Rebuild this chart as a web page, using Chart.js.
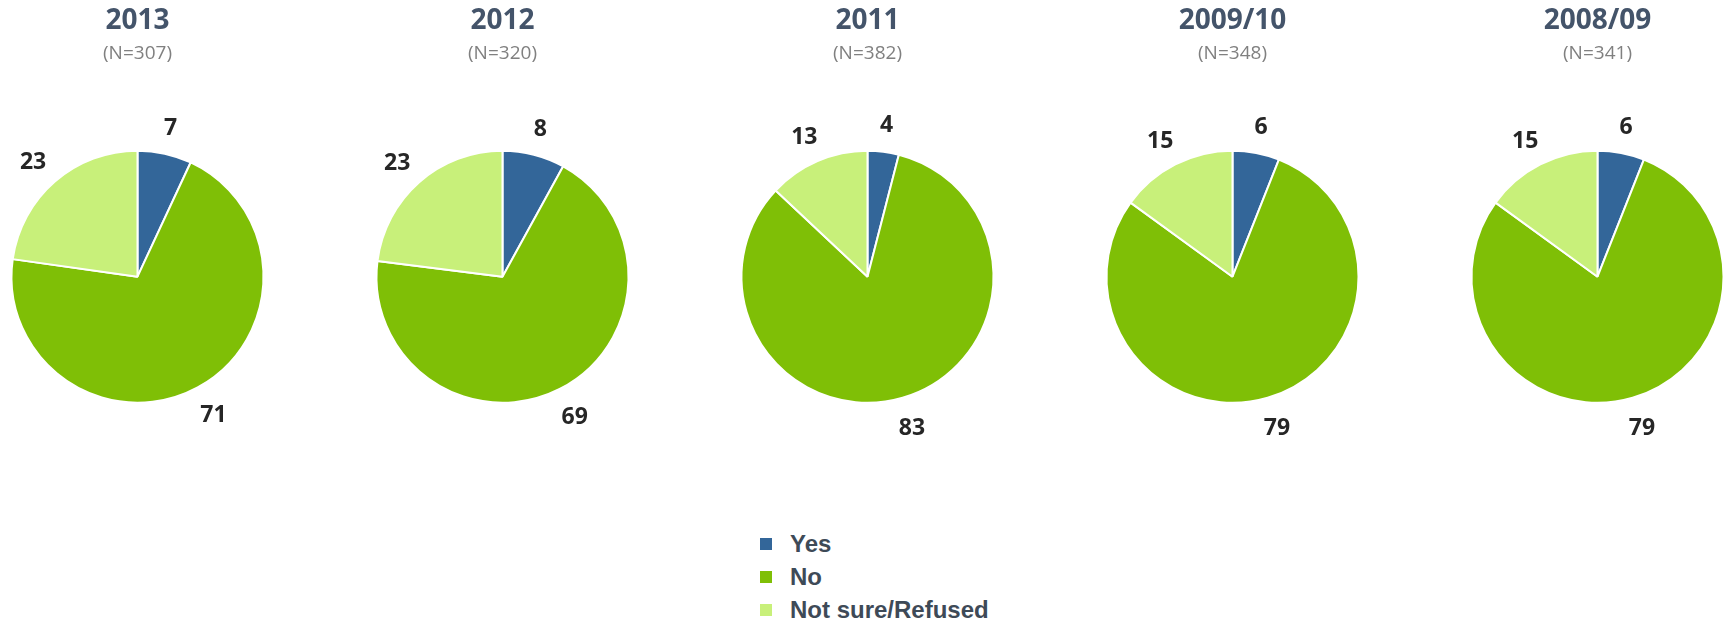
<!DOCTYPE html>
<html lang="en">
<head>
  <meta charset="UTF-8">
  <script src="https://cdn.jsdelivr.net/npm/chart.js"></script>
  <title>Pies</title>
  <style>
    html, body { margin: 0; padding: 0; background: #fff; overflow: hidden; }
    body { width: 1730px; height: 623px; position: relative; }
    #row { position: absolute; left: -45px; top: 0; display: flex; }
    .pie { width: 365px; height: 440px; position: relative; }
    #legend { position: absolute; left: 760px; top: 527px; font: bold 24px "Liberation Sans", Arial, sans-serif; color: #3e4a57; }
    .item { display: flex; align-items: center; height: 33px; }
    .box { width: 12px; height: 12px; margin-right: 18px; }
  </style>
</head>
<body>
  <div id="row"></div>
  <div id="legend"></div>

<script>
  // survey answers, percent
  const answers = ['Yes', 'No', 'Not sure/Refused'];
  const years = ['2013', '2012', '2011', '2009/10', '2008/09'];
  const sampleSizes = ['(N=307)', '(N=320)', '(N=382)', '(N=348)', '(N=341)'];
  const yesValues = [7, 8, 4, 6, 6];
  const noValues = [71, 69, 83, 79, 79];
  const notSureValues = [23, 23, 13, 15, 15];

  const colors = ['#336699', '#7fbf06', '#c8f07a'];

  // value labels outside each slice
  const outsideLabels = {
    id: 'outsideLabels',
    afterDatasetsDraw(chart) {
      const ctx = chart.ctx;
      const meta = chart.getDatasetMeta(0);
      const values = chart.data.datasets[0].data;
      ctx.save();
      ctx.font = 'bold 23px "Open Sans"';
      ctx.fillStyle = '#262626';
      ctx.textAlign = 'center';
      ctx.textBaseline = 'middle';
      meta.data.forEach((arc, i) => {
        const p = arc.getProps(['x', 'y', 'startAngle', 'endAngle', 'outerRadius'], true);
        const mid = (p.startAngle + p.endAngle) / 2;
        const dx = Math.cos(mid), dy = Math.sin(mid);
        const txt = String(values[i]);
        const w = ctx.measureText(txt).width;
        const r = p.outerRadius + 20;
        const x = p.x + dx * r + dx * w / 2;
        const y = p.y + dy * r + dy * 9 + 3;
        ctx.fillText(txt, x, y);
      });
      ctx.restore();
    }
  };

  const row = document.getElementById('row');
  years.forEach((year, i) => {
    const wrap = document.createElement('div');
    wrap.className = 'pie';
    const cv = document.createElement('canvas');
    wrap.appendChild(cv);
    row.appendChild(wrap);

    new Chart(cv, {
      type: 'pie',
      data: {
        labels: answers,
        datasets: [{
          data: [yesValues[i], noValues[i], notSureValues[i]],
          backgroundColor: colors,
          borderColor: '#ffffff',
          borderWidth: 2
        }]
      },
      options: {
        responsive: true,
        maintainAspectRatio: false,
        animation: false,
        radius: 126,
        layout: { padding: { bottom: 38 } },
        plugins: {
          legend: { display: false },
          tooltip: { enabled: false },
          title: {
            display: true,
            text: year,
            color: '#44546a',
            font: { family: 'Open Sans', size: 28, weight: 'bold' },
            padding: { top: 4, bottom: 0 }
          },
          subtitle: {
            display: true,
            text: sampleSizes[i],
            color: '#808080',
            font: { family: 'Open Sans', size: 19, weight: 'normal' },
            padding: { top: 5, bottom: 86 }
          }
        }
      },
      plugins: [outsideLabels]
    });
  });

  const legend = document.getElementById('legend');
  answers.forEach((a, i) => {
    const item = document.createElement('div');
    item.className = 'item';
    item.innerHTML = '<span class="box" style="background:' + colors[i] + '"></span><span>' + a + '</span>';
    legend.appendChild(item);
  });
</script>
</body>
</html>
